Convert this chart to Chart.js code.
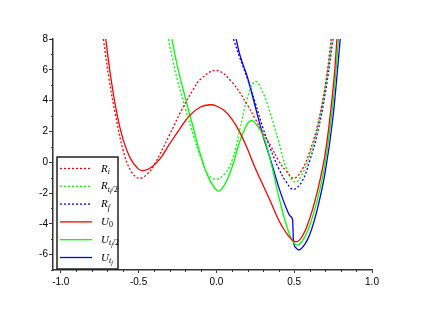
<!DOCTYPE html>
<html>
<head>
<meta charset="utf-8">
<script src="https://cdn.jsdelivr.net/npm/chart.js@4.4.0/dist/chart.umd.min.js"></script>
<style>
  body { margin: 0; background: #fff; }
  canvas { display: block; }
</style>
</head>
<body>
<canvas id="myChart" width="425" height="311"></canvas>
<script>
// values
const riX = [-0.726, -0.69, -0.651, -0.6, -0.55, -0.5, -0.45, -0.4, -0.3, -0.233, -0.15, -0.1, 0.0, 0.1, 0.2, 0.25, 0.3, 0.35, 0.4, 0.45, 0.5, 0.55, 0.6, 0.65, 0.7, 0.738];
const riY = [8, 5.4, 3.2, 0.8, -0.55, -1.04, -0.82, -0.17, 1.8, 3.2, 4.7, 5.4, 5.96, 5.2, 3.7, 2.8, 1.9, 1.05, 0.1, -0.6, -1.04, -0.5, 0.7, 2.4, 5.0, 8];

const rhX = [-0.308, -0.28, -0.25, -0.2, -0.15, -0.1, -0.05, 0.0, 0.05, 0.1, 0.15, 0.2, 0.25, 0.3, 0.35, 0.4, 0.45, 0.505, 0.55, 0.6, 0.65, 0.7, 0.745];
const rhY = [8, 6.6, 5.3, 3.5, 1.8, 0.3, -0.85, -1.1, -0.8, 0.1, 2.1, 4.2, 5.24, 4.5, 3.05, 1.35, -0.4, -1.3, -0.8, 0.45, 2.2, 4.9, 8];

const rfX = [0.11, 0.15, 0.2, 0.25, 0.3, 0.35, 0.4, 0.45, 0.496, 0.55, 0.6, 0.65, 0.7, 0.75];
const rfY = [8, 6.8, 5.4, 3.85, 2.2, 0.8, -0.4, -1.3, -1.76, -1.25, 0.1, 1.9, 4.5, 8];

const u0X = [-0.711, -0.68, -0.64, -0.6, -0.55, -0.5, -0.469, -0.42, -0.36, -0.3, -0.233, -0.17, -0.1, -0.04, 0.0, 0.05, 0.1, 0.15, 0.2, 0.25, 0.3, 0.35, 0.4, 0.45, 0.507, 0.55, 0.6, 0.65, 0.7, 0.75, 0.775];
const u0Y = [8, 5.6, 3.2, 1.5, 0.2, -0.45, -0.55, -0.35, 0.25, 1.2, 2.2, 3.05, 3.6, 3.73, 3.65, 3.35, 2.8, 1.95, 0.85, -0.4, -1.5, -2.6, -3.75, -4.6, -5.16, -4.84, -3.65, -1.85, 0.6, 4.8, 8];

const uhX = [-0.286, -0.25, -0.2, -0.15, -0.1, -0.05, 0.01, 0.05, 0.1, 0.15, 0.2, 0.228, 0.26, 0.3, 0.35, 0.4, 0.45, 0.486, 0.518, 0.56, 0.6, 0.65, 0.7, 0.75, 0.785];
const uhY = [8, 6.2, 4.2, 2.3, 0.4, -1.0, -1.87, -1.5, -0.35, 1.35, 2.5, 2.71, 2.4, 1.75, 0.0, -2.2, -4.1, -5.05, -5.38, -5.0, -4.1, -2.4, 0.0, 3.9, 8];

const ufX = [0.127, 0.15, 0.2, 0.25, 0.3, 0.35, 0.4, 0.45, 0.475, 0.49, 0.495, 0.51, 0.528, 0.57, 0.6, 0.65, 0.7, 0.75, 0.796];
const ufY = [8, 7.0, 5.5, 3.6, 1.7, 0.1, -1.6, -3.0, -3.5, -3.75, -5.1, -5.55, -5.7, -5.3, -4.7, -3.0, -0.6, 3.0, 8];

const xMajor = [-1.0, -0.5, 0.0, 0.5, 1.0];
const yMajor = [-6, -4, -2, 0, 2, 4, 6, 8];

const legendItems = [
  { parts: [['R', 0], ['i', 1]], color: '#ff0000', dash: true },
  { parts: [['R', 0], ['t', 1], ['f', 2], ['/2', 1]], color: '#00ff00', dash: true },
  { parts: [['R', 0], ['f', 1]], color: '#0000ff', dash: true },
  { parts: [['U', 0], ['0', 1]], color: '#ff0000', dash: false },
  { parts: [['U', 0], ['t', 1], ['f', 2], ['/2', 1]], color: '#00ff00', dash: false },
  { parts: [['U', 0], ['t', 1], ['f', 2]], color: '#0000ff', dash: false }
];

function toPoints(xs, ys) {
  return xs.map((x, i) => ({ x: x, y: ys[i] }));
}

function makeSet(label, xs, ys, color, dashed, monotone) {
  return {
    label: label,
    data: toPoints(xs, ys),
    borderColor: color,
    borderWidth: 1.3,
    borderDash: dashed ? [2, 2] : [],
    pointRadius: 0,
    fill: false,
    tension: 0.4,
    cubicInterpolationMode: monotone ? 'monotone' : 'default'
  };
}

// minor ticks + the boxed legend, drawn after the chart
const extras = {
  id: 'extras',
  afterDraw(chart) {
    const ctx = chart.ctx;
    const xs = chart.scales.x;
    const ys = chart.scales.y;
    const area = chart.chartArea;
    ctx.save();
    ctx.strokeStyle = '#333';
    ctx.lineWidth = 1;
    for (let v = -7; v <= 8; v++) {
      if (v % 2 === 0) continue;
      const py = Math.round(ys.getPixelForValue(v)) + 0.5;
      ctx.beginPath();
      ctx.moveTo(area.left - 2, py);
      ctx.lineTo(area.left, py);
      ctx.stroke();
    }
    for (let i = -10; i <= 10; i++) {
      if (i % 5 === 0) continue;
      const px = Math.round(xs.getPixelForValue(i / 10)) + 0.5;
      ctx.beginPath();
      ctx.moveTo(px, area.bottom);
      ctx.lineTo(px, area.bottom + 2);
      ctx.stroke();
    }

    // legend box
    const bx = 57, by = 157, bw = 61, bh = 112;
    ctx.fillStyle = '#fff';
    ctx.fillRect(bx, by, bw, bh);
    ctx.strokeStyle = '#222';
    ctx.lineWidth = 1.5;
    ctx.strokeRect(bx, by, bw, bh);

    legendItems.forEach((item, i) => {
      const ly = 168.5 + i * 17.8;
      ctx.strokeStyle = item.color;
      ctx.lineWidth = 1.3;
      ctx.setLineDash(item.dash ? [2, 2] : []);
      ctx.beginPath();
      ctx.moveTo(60, ly);
      ctx.lineTo(92, ly);
      ctx.stroke();
      ctx.setLineDash([]);

      let tx = 101;
      ctx.fillStyle = '#000';
      ctx.textBaseline = 'alphabetic';
      item.parts.forEach(p => {
        const size = p[1] === 0 ? 11 : (p[1] === 1 ? 8 : 6);
        const off = p[1] === 0 ? 0 : (p[1] === 1 ? 2.5 : 4);
        ctx.font = 'italic ' + size + 'px "Liberation Serif", "DejaVu Serif", serif';
        if (p[0] === '/2' || p[0] === '0') ctx.font = size + 'px "Liberation Serif", "DejaVu Serif", serif';
        ctx.fillText(p[0], tx, ly + 3 + off);
        tx += ctx.measureText(p[0]).width;
      });
    });
    ctx.restore();
  }
};

const ctx = document.getElementById('myChart').getContext('2d');

new Chart(ctx, {
  type: 'line',
  data: {
    datasets: [
      makeSet('Ri', riX, riY, '#ff0000', true, false),
      makeSet('Rtf2', rhX, rhY, '#00ff00', true, false),
      makeSet('Rf', rfX, rfY, '#0000ff', true, false),
      makeSet('U0', u0X, u0Y, '#ff0000', false, false),
      makeSet('Utf2', uhX, uhY, '#00ff00', false, false),
      makeSet('Utf', ufX, ufY, '#0000ff', false, true)
    ]
  },
  options: {
    responsive: false,
    animation: false,
    layout: { padding: { top: 39, right: 53, left: 0, bottom: 0 } },
    plugins: {
      legend: { display: false },
      tooltip: { enabled: false }
    },
    scales: {
      x: {
        type: 'linear',
        min: -1.05,
        max: 1.0,
        afterFit: scale => { scale.height = 41; },
        afterBuildTicks: scale => { scale.ticks = xMajor.map(v => ({ value: v })); },
        border: { display: true, color: '#333', width: 1.5 },
        grid: { drawOnChartArea: false, drawTicks: true, tickLength: 3, color: '#333' },
        ticks: {
          padding: 3,
          color: '#000',
          font: { family: '"Liberation Sans", Arial, sans-serif', size: 10 },
          maxRotation: 0,
          callback: v => v.toFixed(1)
        }
      },
      y: {
        type: 'linear',
        min: -7,
        max: 8,
        afterFit: scale => { scale.width = 53; },
        afterBuildTicks: scale => { scale.ticks = yMajor.map(v => ({ value: v })); },
        border: { display: true, color: '#333', width: 1.5 },
        grid: { drawOnChartArea: false, drawTicks: true, tickLength: 4, color: '#333' },
        ticks: {
          padding: 1,
          color: '#000',
          font: { family: '"Liberation Sans", Arial, sans-serif', size: 10 },
          callback: v => String(v)
        }
      }
    }
  },
  plugins: [extras]
});
</script>
</body>
</html>
